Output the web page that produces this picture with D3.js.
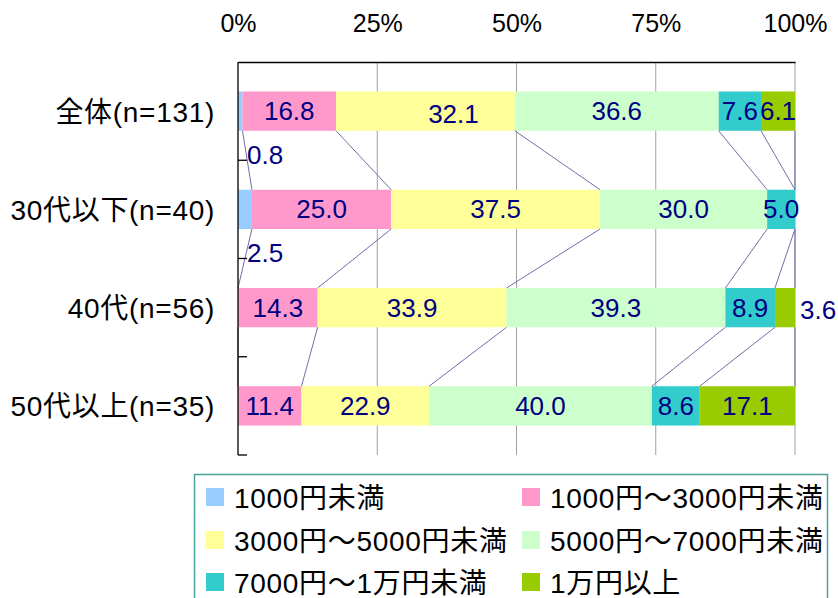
<!DOCTYPE html>
<html><head><meta charset="utf-8">
<script src="https://cdn.jsdelivr.net/npm/d3@7"></script>
<style>
html,body{margin:0;padding:0;background:#fff;}
svg{display:block;}
</style></head>
<body>
<svg id="chart" width="838" height="598"></svg>
<script>
// ---- data ----
const categories = ["全体(n=131)", "30代以下(n=40)", "40代(n=56)", "50代以上(n=35)"];
const seriesNames = ["1000円未満", "1000円～3000円未満", "3000円～5000円未満", "5000円～7000円未満", "7000円～1万円未満", "1万円以上"];
const seriesColors = ["#99ccff", "#ff99cc", "#ffff99", "#ccffcc", "#33cccc", "#99cc00"];
const under1000 = [0.8, 2.5, 0.0, 0.0];
const from1000to3000 = [16.8, 25.0, 14.3, 11.4];
const from3000to5000 = [32.1, 37.5, 33.9, 22.9];
const from5000to7000 = [36.6, 30.0, 39.3, 40.0];
const from7000to10000 = [7.6, 5.0, 8.9, 8.6];
const over10000 = [6.1, 0.0, 3.6, 17.1];
const tickValues = [0, 25, 50, 75, 100];
const tickLabels = ["0%", "25%", "50%", "75%", "100%"];

const seriesValues = [under1000, from1000to3000, from3000to5000, from5000to7000, from7000to10000, over10000];
const table = categories.map((c, i) => {
  const row = {category: c};
  seriesNames.forEach((s, k) => row[s] = seriesValues[k][i]);
  return row;
});

// ---- layout ----
const svg = d3.select("#chart");
const pL = 238, pR = 795, pT = 62, pB = 455;
const x = d3.scaleLinear().domain([0, 100]).range([pL, pR]);
const y = d3.scaleBand().domain(categories).range([pT, pB]).paddingInner(0.6).paddingOuter(0.3);
const stack = d3.stack().keys(seriesNames)(table);
const labelFont = "'Liberation Sans', Arial, sans-serif";
const jpFont = "'Liberation Sans', 'Noto Sans CJK JP', sans-serif";

// gridlines
svg.append("g").selectAll("line").data(tickValues.slice(1)).join("line")
  .attr("x1", d => x(d)).attr("x2", d => x(d))
  .attr("y1", pT).attr("y2", pB)
  .attr("stroke", "#a0a0a0").attr("stroke-width", 1);

// bars
const gs = svg.append("g").selectAll("g").data(stack).join("g")
  .attr("fill", (d, k) => seriesColors[k]);
gs.selectAll("rect").data(d => d).join("rect")
  .attr("x", d => x(d[0]))
  .attr("width", d => x(d[1]) - x(d[0]))
  .attr("y", d => y(d.data.category))
  .attr("height", y.bandwidth());

// series lines
const segs = [];
stack.forEach((s, k) => {
  for (let i = 0; i < categories.length - 1; i++) {
    segs.push({x1: x(s[i][1]), y1: y(categories[i]) + y.bandwidth(),
               x2: x(s[i + 1][1]), y2: y(categories[i + 1])});
  }
});
svg.append("g").selectAll("line").data(segs).join("line")
  .attr("x1", d => d.x1).attr("y1", d => d.y1)
  .attr("x2", d => d.x2).attr("y2", d => d.y2)
  .attr("stroke", "#6f6fa8").attr("stroke-width", 1);

// top axis
const xAxis = d3.axisTop(x).tickValues(tickValues).tickFormat((d, i) => tickLabels[i])
  .tickSize(0).tickSizeOuter(0).tickPadding(30);
const gx = svg.append("g").attr("transform", `translate(0,${pT})`).call(xAxis);
gx.select(".domain").attr("stroke", "#000").attr("stroke-width", 1.3);
gx.selectAll("text").attr("font-family", labelFont).attr("font-size", 25).attr("fill", "#000");

// left axis line + ticks at band boundaries
const bounds = categories.map(c => y(c) - y.step() * y.paddingInner() / 2).slice(1).concat([pB]);
svg.append("line").attr("x1", pL).attr("x2", pL).attr("y1", pT).attr("y2", pB)
  .attr("stroke", "#000").attr("stroke-width", 1.3);
svg.append("g").selectAll("line").data(bounds).join("line")
  .attr("x1", pL).attr("x2", pL + 9)
  .attr("y1", d => d).attr("y2", d => d)
  .attr("stroke", "#000").attr("stroke-width", 1.3);

// category labels
svg.append("g").selectAll("text").data(categories).join("text")
  .attr("x", 215).attr("y", d => y(d) + y.bandwidth() / 2 + 1)
  .attr("text-anchor", "end").attr("dominant-baseline", "central")
  .attr("font-family", jpFont).attr("font-size", 28).attr("letter-spacing", 0.7).attr("fill", "#000")
  .text(d => d);

// data labels
const tweaks = {"0-2": [28, 3]};
const labels = [];
stack.forEach((s, k) => {
  s.forEach((d, i) => {
    const v = seriesValues[k][i];
    if (!v) return;
    const yc = y(categories[i]) + y.bandwidth() / 2;
    let lx, ly, anchor = "middle";
    if (k === 0) {
      lx = x(0) + 9; ly = y(categories[i]) + y.bandwidth() + 24; anchor = "start";
    } else if (k === seriesNames.length - 1 && v < 5) {
      lx = x(100) + 5; ly = yc + 2; anchor = "start";
    } else {
      lx = (x(d[0]) + x(d[1])) / 2; ly = yc;
    }
    const t = tweaks[i + "-" + k];
    if (t) { lx += t[0]; ly += t[1]; }
    labels.push({lx, ly, anchor, txt: v.toFixed(1)});
  });
});
svg.append("g").selectAll("text").data(labels).join("text")
  .attr("x", d => d.lx).attr("y", d => d.ly)
  .attr("text-anchor", d => d.anchor).attr("dominant-baseline", "central")
  .attr("font-family", labelFont).attr("font-size", 26).attr("fill", "#000080")
  .text(d => d.txt);

// legend
const lg = svg.append("g");
lg.append("rect").attr("x", 194.5).attr("y", 474.5).attr("width", 633).attr("height", 130)
  .attr("fill", "#fff").attr("stroke", "#48a29c").attr("stroke-width", 1.5);
const colX = [206, 522], rowY = [497, 540, 582];
const items = lg.selectAll("g").data(seriesNames).join("g")
  .attr("transform", (d, i) => `translate(${colX[i % 2]},${rowY[Math.floor(i / 2)]})`);
items.append("rect").attr("x", 0).attr("y", -9).attr("width", 18).attr("height", 18)
  .attr("fill", (d, i) => seriesColors[i]);
items.append("text").attr("x", 28).attr("y", 1).attr("dominant-baseline", "central")
  .attr("font-family", jpFont).attr("font-size", 28).attr("letter-spacing", 0.7).attr("fill", "#000")
  .text(d => d);
</script>
</body></html>
